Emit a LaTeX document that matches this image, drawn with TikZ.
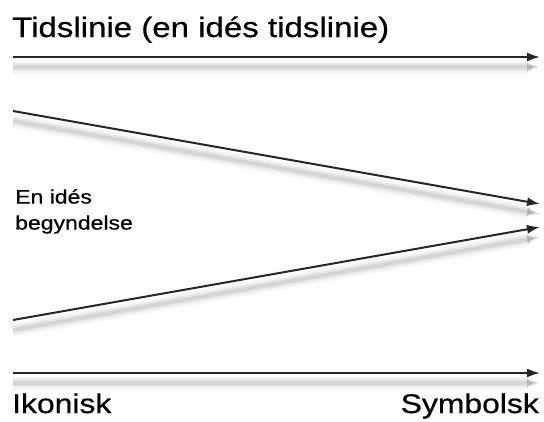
\documentclass[tikz,border=0pt]{standalone}
\usepackage{fontspec}
\setmainfont[FakeStretch=1.18, FakeBold=0.6]{Liberation Sans}
\usetikzlibrary{arrows.meta}

\begin{document}
\begin{tikzpicture}[x=1pt, y=-1pt]
    \tikzset{
        timearrow/.style={
            draw=black!85, line width=2pt, -{Latex[length=13pt, width=9pt]},
            preaction={draw=black, opacity=0.04, line width=13pt, transform canvas={yshift=-10pt}},
            preaction={draw=black, opacity=0.06, line width=8pt, transform canvas={yshift=-10pt}},
            preaction={draw=black, opacity=0.08, line width=4pt, transform canvas={yshift=-10pt}}
        },
        label/.style={inner sep=0pt, text=black}
    }

    \useasboundingbox (0,0) rectangle (544,421);

    \node[label, anchor=base west, font=\fontsize{28}{34}\selectfont] (title) at (12,37) {Tidslinie (en idés tidslinie)};

    \coordinate (top-start) at (13,57);
    \coordinate (top-end) at (540,57);
    \draw[timearrow] (top-start) -- (top-end);

    \coordinate (down-start) at (13,111);
    \coordinate (down-end) at (540,204);
    \draw[timearrow] (down-start) -- (down-end);

    \coordinate (up-start) at (13,320);
    \coordinate (up-end) at (540,227);
    \draw[timearrow] (up-start) -- (up-end);

    \node[label, anchor=north west, align=left, font=\fontsize{19.5}{26}\selectfont] (idea) at (15,189) {En idés\\begyndelse};

    \coordinate (bottom-start) at (13,373);
    \coordinate (bottom-end) at (540,373);
    \draw[timearrow] (bottom-start) -- (bottom-end);

    \node[label, anchor=base west, font=\fontsize{27}{32}\selectfont] (iconic) at (12,413) {Ikonisk};
    \node[label, anchor=base east, font=\fontsize{27}{32}\selectfont] (symbolic) at (539,413) {Symbolsk};
\end{tikzpicture}
\end{document}
